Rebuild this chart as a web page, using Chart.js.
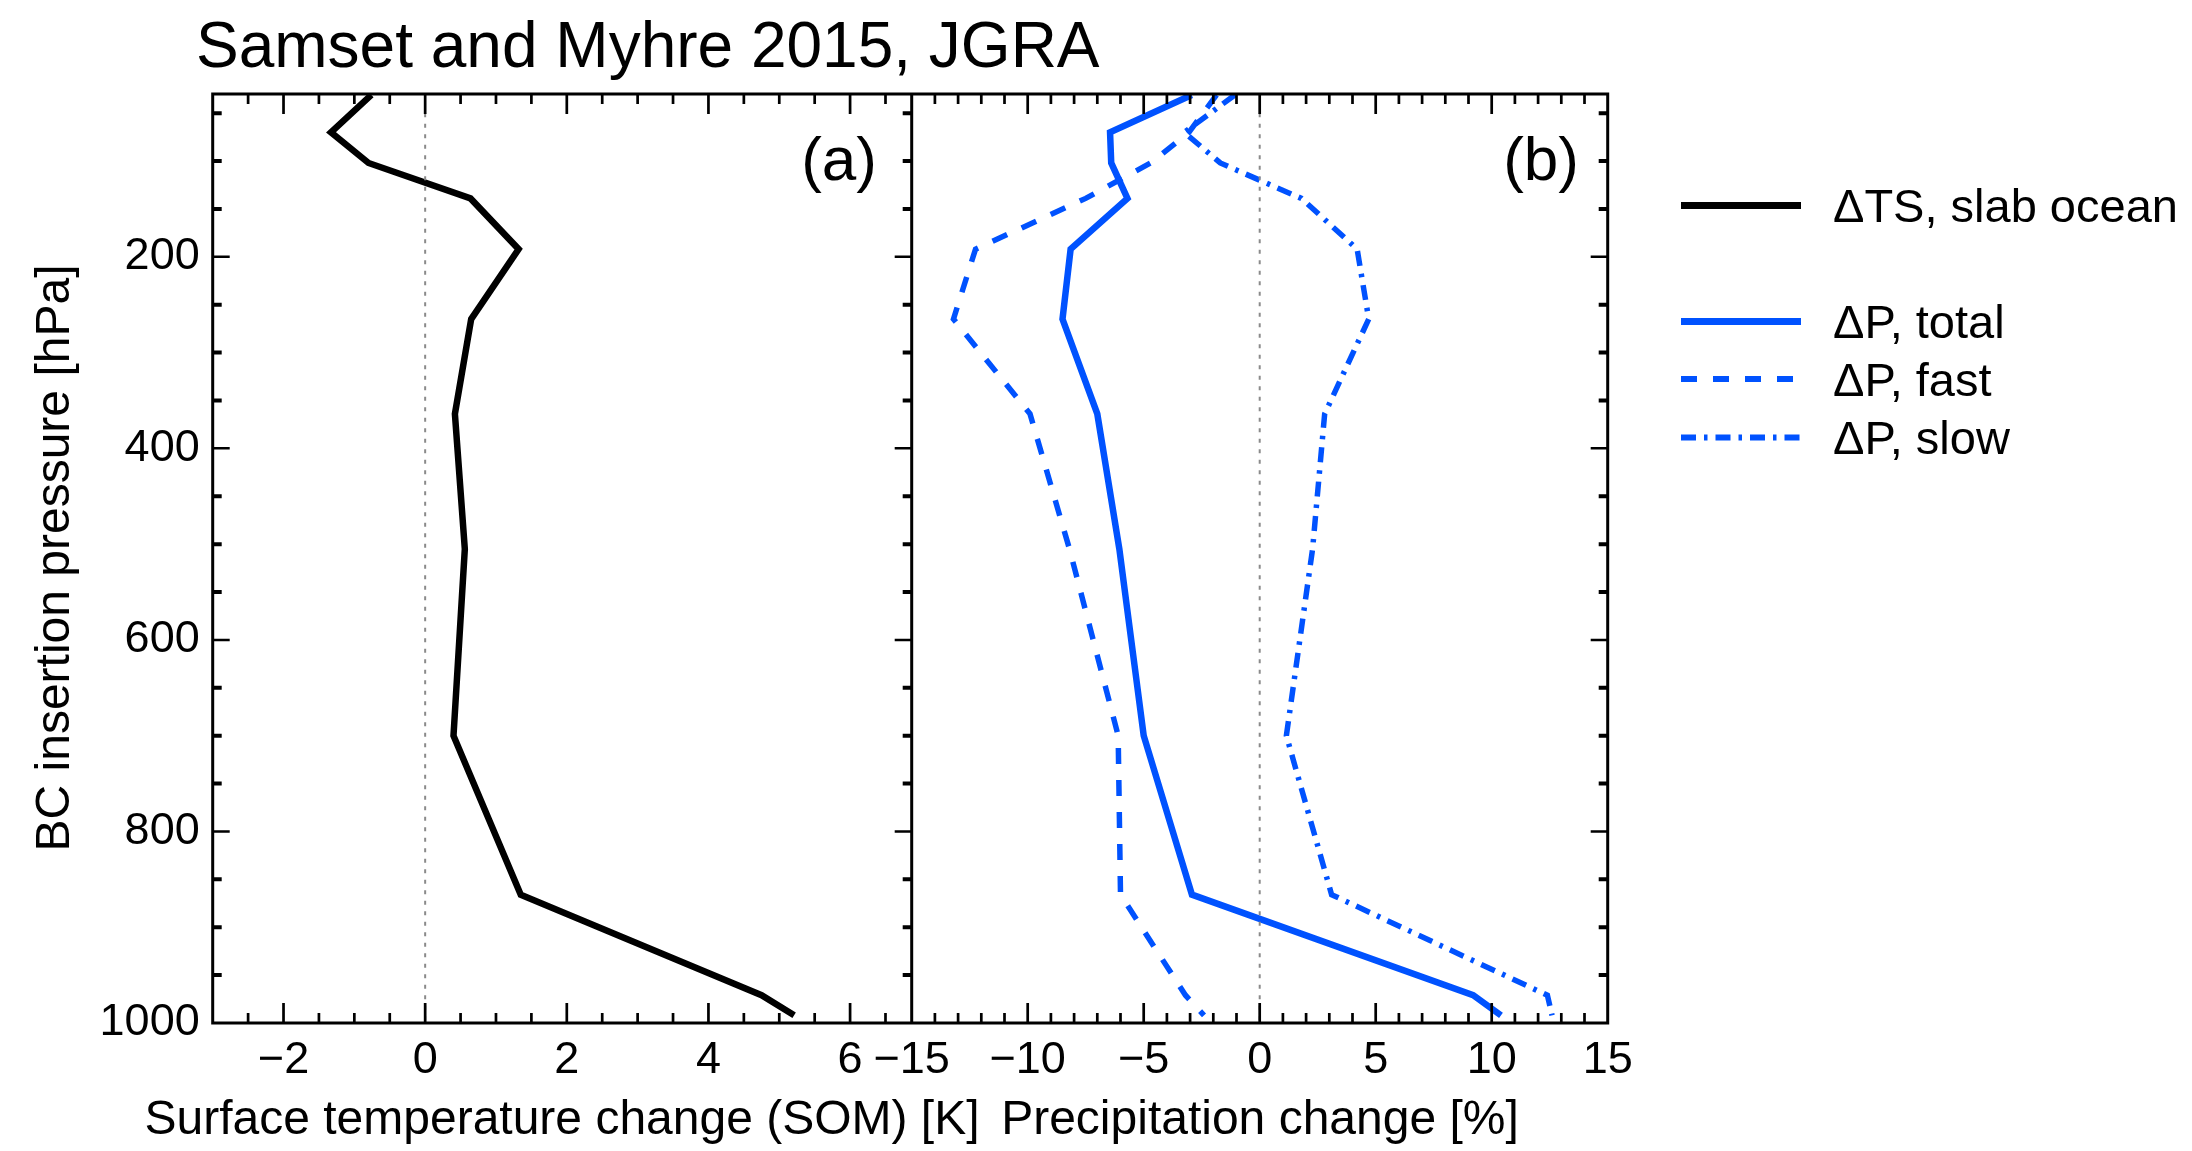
<!DOCTYPE html>
<html lang="en">
<head>
<meta charset="utf-8">
<title>BC insertion pressure: surface temperature and precipitation response</title>
<script src="https://cdn.jsdelivr.net/npm/chart.js@4.4.1/dist/chart.umd.min.js"></script>
<style>
  html, body { margin: 0; padding: 0; background: #ffffff; }
  #figure { position: relative; width: 2192px; height: 1151px; overflow: hidden;
            font-family: "Liberation Sans", Arial, Helvetica, sans-serif; color: #000; }
  #plot { position: absolute; left: 0; top: 0; }
  .txt { position: absolute; white-space: nowrap; line-height: 1; }
  .axis-title { width: 1000px; text-align: center; font-size: 48px; }
</style>
</head>
<body>
<div id="figure">
  <canvas id="plot" width="2192" height="1151"></canvas>

  <div class="txt" style="left:196px; top:13px; font-size:64px;">Samset and Myhre 2015, JGRA</div>

  <div class="txt" style="right:1315px; top:128px; font-size:62px;">(a)</div>
  <div class="txt" style="right:613px; top:128px; font-size:62px;">(b)</div>

  <div class="txt axis-title" style="left:-447px; top:534px; transform:rotate(-90deg);">BC insertion pressure [hPa]</div>
  <div class="txt axis-title" style="left:62px; top:1094px;">Surface temperature change (SOM) [K]</div>
  <div class="txt axis-title" style="left:760px; top:1094px;">Precipitation change [%]</div>

  <svg style="position:absolute; left:1670px; top:180px;" width="150" height="290">
    <line x1="11" y1="25.5" x2="131" y2="25.5" stroke="#000000" stroke-width="7"/>
    <line x1="11" y1="141.5" x2="131" y2="141.5" stroke="#0052ff" stroke-width="7"/>
    <line x1="11" y1="199" x2="131" y2="199" stroke="#0052ff" stroke-width="6" stroke-dasharray="16 16"/>
    <line x1="11" y1="257.6" x2="131" y2="257.6" stroke="#0052ff" stroke-width="6" stroke-dasharray="15 8 3.5 8"/>
  </svg>
  <div class="txt" style="left:1833px; top:182px; font-size:47px;">ΔTS, slab ocean</div>
  <div class="txt" style="left:1833px; top:298px; font-size:47px;">ΔP, total</div>
  <div class="txt" style="left:1833px; top:356px; font-size:47px;">ΔP, fast</div>
  <div class="txt" style="left:1833px; top:414px; font-size:47px;">ΔP, slow</div>
</div>

<script>
// Pressure level (hPa) at which black carbon was inserted
const pressureLevels = [31, 70, 102, 139, 192, 265, 364, 505, 700, 866, 971, 992];

// (a) surface temperature change with slab ocean [K]
const tsSlabOcean = [-0.76, -1.33, -0.80, 0.64, 1.32, 0.65, 0.42, 0.56, 0.40, 1.35, 4.75, 5.21];

// (b) precipitation change [%]: total, fast and slow components
const pTotal = [-2.93, -6.45, -6.40, -5.70, -8.15, -8.50, -7.00, -6.05, -5.00, -2.92, 9.20, 10.40];
const pFast  = [-1.86, -3.05, -4.70, -7.50, -12.25, -13.20, -9.90, -8.20, -6.10, -6.00, -3.20, -2.40];
const pSlow  = [-1.07, -3.25, -1.70, 1.80, 4.20, 4.70, 2.80, 2.28, 1.15, 3.10, 12.40, 12.60];

// Axis ranges and labelled ticks
const pressureRange = [30, 1000];
const tempRange = [-3.0, 6.87];
const precipRange = [-15, 15];
const pressureTicks = [200, 400, 600, 800, 1000];
const tempTicks = [-2, 0, 2, 4, 6];
const precipTicks = [-15, -10, -5, 0, 5, 10, 15];

// Vertical zero reference, drawn between these pressures
const zeroLineSpan = [50, 1000];

const BLUE = '#0052ff';
const FONT = '"Liberation Sans", Arial, Helvetica, sans-serif';

const asPoints = values => values.map((x, i) => ({ x, y: pressureLevels[i] }));
const minusSign = v => (v < 0 ? '\u2212' + Math.abs(v) : String(v));

// Inward tick marks on the frame of every panel
const tickMarks = {
  xa: { major: 2, minor: 0.5 },
  xb: { major: 5, minor: 1 },
  y:  { major: 200, minor: 50 }
};

function steps(min, max, step) {
  const out = [];
  for (let k = Math.ceil(min / step - 1e-9); k * step <= max + 1e-9; k++) {
    out.push(+(k * step).toFixed(6));
  }
  return out;
}
const isMajor = (v, step) => Math.abs(v / step - Math.round(v / step)) < 1e-6;

const framePlugin = {
  id: 'frameAndTicks',
  afterDatasetsDraw(chart) {
    const { ctx, chartArea: ca, scales } = chart;
    ctx.save();
    ctx.strokeStyle = '#000';
    ctx.lineCap = 'butt';

    // x ticks, top and bottom of each panel
    for (const id of ['xa', 'xb']) {
      const s = scales[id];
      const m = tickMarks[id];
      for (const v of steps(s.min, s.max, m.minor)) {
        const px = s.getPixelForValue(v);
        if (px <= s.left + 2 || px >= s.right - 2) continue;
        const len = isMajor(v, m.major) ? 20 : 10;
        ctx.lineWidth = 2.7;
        ctx.beginPath();
        ctx.moveTo(px, ca.bottom); ctx.lineTo(px, ca.bottom - len);
        ctx.moveTo(px, ca.top);    ctx.lineTo(px, ca.top + len);
        ctx.stroke();
      }
    }

    // y ticks: left and right of panel (a), right of panel (b)
    const sy = scales.y;
    const xa = scales.xa;
    const edges = [[xa.left, 1], [xa.right, -1], [ca.right, -1]];
    for (const v of steps(sy.min, sy.max, tickMarks.y.minor)) {
      const py = sy.getPixelForValue(v);
      if (py <= ca.top + 2 || py >= ca.bottom - 2) continue;
      const major = isMajor(v, tickMarks.y.major);
      ctx.lineWidth = major ? 2.5 : 4;
      const len = major ? 17 : 9;
      ctx.beginPath();
      for (const [ex, dir] of edges) {
        ctx.moveTo(ex, py); ctx.lineTo(ex + dir * len, py);
      }
      ctx.stroke();
    }

    // frame and panel divider
    ctx.lineWidth = 3;
    ctx.strokeRect(ca.left, ca.top, ca.right - ca.left, ca.bottom - ca.top);
    ctx.beginPath();
    ctx.moveTo(xa.right, ca.top); ctx.lineTo(xa.right, ca.bottom);
    ctx.stroke();
    ctx.restore();
  }
};

const lineDefaults = { showLine: true, pointRadius: 0, pointHoverRadius: 0, tension: 0,
                       borderJoinStyle: 'miter', fill: false, yAxisID: 'y' };

const zeroStyle = { borderColor: '#8a8a8a', borderWidth: 2, borderDash: [4, 6.5] };

new Chart(document.getElementById('plot'), {
  type: 'scatter',
  data: {
    datasets: [
      { ...lineDefaults, ...zeroStyle, label: 'zero (a)', xAxisID: 'xa',
        data: zeroLineSpan.map(p => ({ x: 0, y: p })) },
      { ...lineDefaults, ...zeroStyle, label: 'zero (b)', xAxisID: 'xb',
        data: zeroLineSpan.map(p => ({ x: 0, y: p })) },
      { ...lineDefaults, label: 'ΔTS, slab ocean', xAxisID: 'xa', data: asPoints(tsSlabOcean),
        borderColor: '#000000', borderWidth: 6.5 },
      { ...lineDefaults, label: 'ΔP, fast', xAxisID: 'xb', data: asPoints(pFast),
        borderColor: BLUE, borderWidth: 5.5, borderDash: [16, 16] },
      { ...lineDefaults, label: 'ΔP, slow', xAxisID: 'xb', data: asPoints(pSlow),
        borderColor: BLUE, borderWidth: 5.5, borderDash: [15, 8, 3.5, 8] },
      { ...lineDefaults, label: 'ΔP, total', xAxisID: 'xb', data: asPoints(pTotal),
        borderColor: BLUE, borderWidth: 6.5 }
    ]
  },
  options: {
    responsive: false,
    animation: false,
    devicePixelRatio: 1,
    events: [],
    layout: { padding: { left: 0, right: 584.3, top: 94, bottom: 0 } },
    plugins: { legend: { display: false }, tooltip: { enabled: false }, title: { display: false } },
    scales: {
      y: {
        type: 'linear', position: 'left', reverse: true,
        min: pressureRange[0], max: pressureRange[1],
        afterBuildTicks: s => { s.ticks = pressureTicks.map(v => ({ value: v })); },
        afterFit: s => { s.width = 212.7; },
        grid: { display: false, drawTicks: false },
        border: { display: false },
        ticks: { autoSkip: false, padding: 13, color: '#000',
                 font: { family: FONT, size: 45 }, callback: v => String(v) }
      },
      xa: {
        type: 'linear', position: 'bottom', stack: 'panels', stackWeight: 699,
        min: tempRange[0], max: tempRange[1],
        afterBuildTicks: s => { s.ticks = tempTicks.map(v => ({ value: v })); },
        afterFit: s => { s.height = 128; },
        grid: { display: false, drawTicks: false },
        border: { display: false },
        ticks: { autoSkip: false, maxRotation: 0, padding: 11, color: '#000',
                 font: { family: FONT, size: 45 }, callback: v => minusSign(v) }
      },
      xb: {
        type: 'linear', position: 'bottom', stack: 'panels', stackWeight: 696,
        min: precipRange[0], max: precipRange[1],
        afterBuildTicks: s => { s.ticks = precipTicks.map(v => ({ value: v })); },
        afterFit: s => { s.height = 128; },
        grid: { display: false, drawTicks: false },
        border: { display: false },
        ticks: { autoSkip: false, maxRotation: 0, padding: 11, color: '#000',
                 font: { family: FONT, size: 45 }, callback: v => minusSign(v) }
      }
    }
  },
  plugins: [framePlugin]
});
</script>
</body>
</html>
